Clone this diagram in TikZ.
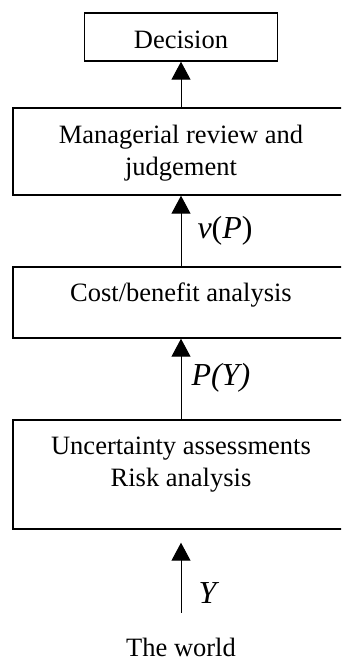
\documentclass[tikz,border=0pt]{standalone}
\usepackage{fontspec}
\setmainfont{Liberation Serif}
\usetikzlibrary{arrows.meta,positioning}

\begin{document}
\begin{tikzpicture}[x=1pt, y=1pt,
  box/.style={draw, line width=1.4pt, inner sep=0pt},
  boxtext/.style={anchor=base, inner sep=0pt, align=center, font=\fontsize{26.5}{31.5}\selectfont},
  flow/.style={line width=1pt, -{Triangle[width=19pt,length=18pt]}},
  lbl/.style={anchor=base west, inner sep=0pt, font=\fontsize{32}{38}\selectfont}]

  % Page frame, the wide boxes run off the right edge
  \path[use as bounding box, clip] (0,0) rectangle (341,661);

  % Boxes
  \node[box, minimum width=193pt, minimum height=48pt] (dec) at (181,624) {};
  \node[box, minimum width=336pt, minimum height=87pt] (mgr) at (181,509.5) {};
  \node[box, minimum width=336pt, minimum height=71pt] (cba) at (181,358.5) {};
  \node[box, minimum width=336pt, minimum height=109pt] (ura) at (181,186.5) {};

  % Box texts, first baseline about 36pt below the top edge
  % (two-line texts sit on their last line)
  \node[boxtext] (dectext) at ([yshift=-36pt]dec.north) {Decision};
  \node[boxtext] (mgrtext) at ([yshift=-68pt]mgr.north) {Managerial review and\\judgement};
  \node[boxtext] (cbatext) at ([yshift=-35pt]cba.north) {Cost/benefit analysis};
  \node[boxtext] (uratext) at ([yshift=-67pt]ura.north) {Uncertainty assessments\\Risk analysis};

  % Input at the bottom
  \node[boxtext] (world) at (181,5) {The world};

  % Flow upwards
  \draw[flow] ([yshift=24.5pt]world.north) -- ([yshift=-13pt]ura.south)
    node[lbl, pos=0.14, xshift=17pt] (ylbl) {\textit{Y}};
  \draw[flow] (ura.north) -- (cba.south)
    node[lbl, pos=0.415, xshift=10pt] (pylbl) {\textit{P(Y)}};
  \draw[flow] (cba.north) -- (mgr.south)
    node[lbl, pos=0.40, xshift=16pt] (vplbl) {\textit{v}(\textit{P})};
  \draw[flow] (mgr.north) -- (dec.south);

\end{tikzpicture}
\end{document}
